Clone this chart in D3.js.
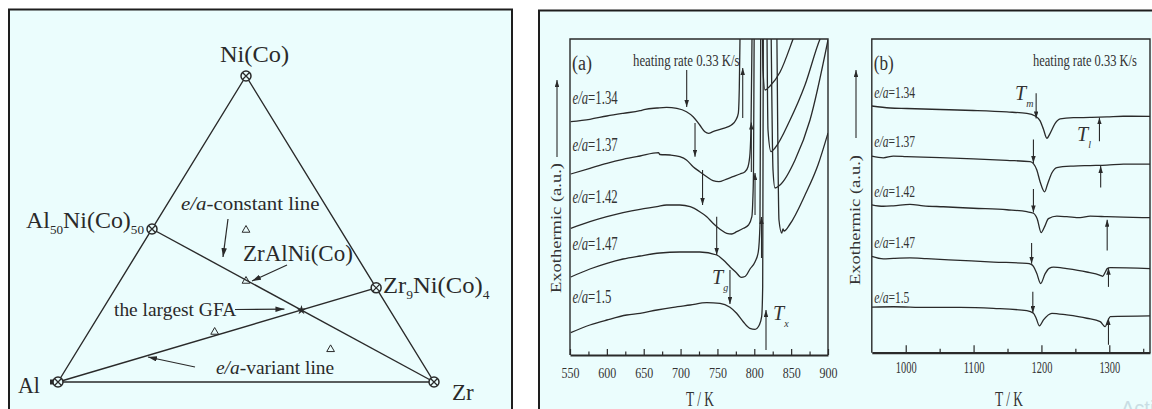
<!DOCTYPE html>
<html><head><meta charset="utf-8">
<script src="https://cdn.jsdelivr.net/npm/d3@7"></script>
<style>
html,body{margin:0;padding:0;background:#fff;}
svg{display:block;font-family:"Liberation Serif","Times New Roman",serif;}
</style></head><body>
<svg id="c" width="1152" height="409"></svg>
<script>
// ---------------- DATA ----------------
// Ternary diagram: compositions as [Al, Ni(Co), Zr] fractions
const vertexNames = ["Al", "Ni(Co)", "Zr"];
const vertexComp = [[1,0,0],[0,1,0],[0,0,1]];
const binaryComp = [[0.5,0.5,0],[0,4/13,9/13]];            // Al50Ni(Co)50, Zr9Ni(Co)4
const alloyComp = [[0.25,0.5,0.25],[1/3,1/3,1/3],[0.5,1/6,1/3],[0.22,0.11,0.67]];
const gfaComp = [0.235,0.235,0.53];                          // the largest GFA (star)

// DSC panel (a): [T (K), signal (a.u.)]
const eaLabels = ["1.34","1.37","1.42","1.47","1.5"];
const a134 = [[551,23.33],[577,23.57],[600,23.9],[622,24.17],[645,24.43],[652,24.57],[668,24.7],[681,24.77],[695,24.67],[708,24.33],[717,23.83],[726,23.0],[733,22.33],[738,22.17],[744,22.33],[758,22.67],[769,23.0],[775,23.5],[778.3,24.17],[779.7,26.83],[780.6,31.6],[782,40],[810,40],[811.8,28.5],[814.6,26.5],[821.4,26.9],[835,28.3],[852.6,31.6],[862,33.5]];
const a137 = [[551,18.1],[577,18.67],[600,19.17],[622,19.57],[645,19.9],[670,20.23],[672,20.05],[686,20.0],[699,19.83],[708,19.5],[717,18.83],[726,18.33],[735.5,17.83],[744,17.43],[752,17.33],[761.6,17.57],[771,17.83],[780.6,18.1],[787.4,18.33],[791.5,18.83],[794.2,20.17],[795.6,23.17],[796.9,31.6],[798,40],[816,40],[818.6,22.5],[822.7,20.33],[828.1,20.7],[848.5,23.5],[868.8,27],[889.2,31.6],[902.7,33.5]];
const a142 = [[551,12.67],[577,13.33],[600,13.83],[622,14.23],[645,14.57],[668,14.83],[681,15.0],[699,15.0],[713,14.83],[726,14.33],[735.5,13.83],[744,13.17],[753.5,12.57],[762.6,12.17],[769.4,12.1],[776.2,12.33],[785.3,12.67],[792.1,13.0],[796.7,13.83],[798,15.5],[798.9,18.17],[799.8,31.6],[800.5,40],[821,40],[825.4,18.5],[828.1,16.7],[834.9,17],[855.3,19.5],[875.6,23.5],[900,31.5]];
const a147 = [[551,7.8],[577,8.6],[600,9.17],[622,9.6],[645,9.9],[672,10.2],[699,10.3],[726,10.3],[749,10.0],[758,9.5],[767,8.83],[776,8.2],[782,7.77],[787.4,7.85],[794.2,8.6],[800.9,9.3],[805.4,10.3],[807.7,13.0],[808.7,31.6],[809.5,40],[829,40],[833.5,13.5],[837.2,12.2],[838.9,12.6],[840.3,12.4],[848.5,13.1],[868.8,16],[886.4,19],[900,22.2]];
const a150 = [[551,2.23],[577,3.0],[600,3.5],[627,4.0],[645,4.17],[668,4.5],[690,4.77],[713,5.0],[735.5,5.23],[753.5,5.17],[767,4.77],[776,4.17],[785,3.33],[794,2.67],[801,2.57],[806.8,3.0],[810,3.83],[811.4,6.83],[812.2,31.6],[813,40],[900,40]];
// arrows: [T, from, to]
const tgA = [[708.3,28.5,24.8],[719.6,23.2,19.83],[729.8,18.5,15.0],[749,13.83,10.0],[767,8.5,5.1]];
const txA = [[784.3,23.7,28.7],[796,18.3,23.25],[801,14.0,18.2],[809.8,9.7,13.8],[815.9,0.5,4.5]];
const ticksA = [550,600,650,700,750,800,850,900];

// DSC panel (b)
const b134 = [[950,24.85],[977,24.65],[1001.5,24.6],[1050.6,24.5],[1099.7,24.4],[1149,24.25],[1178.5,24.1],[1190.7,23.85],[1198.1,23.35],[1203,22.5],[1208,21.6],[1212.8,22.1],[1220.2,23.1],[1227.6,23.55],[1247.2,23.67],[1271.8,23.7],[1296.5,23.75],[1320.9,23.82],[1360,23.8]];
const b137 = [[950,19.8],[967,19.63],[981.7,19.8],[1001.5,19.75],[1050.6,19.65],[1099.7,19.53],[1149,19.37],[1183.3,19.25],[1188.2,19.05],[1193.2,18.4],[1198.1,17.2],[1204.7,16.2],[1209.1,17.0],[1215.3,18.1],[1222.7,18.65],[1247.2,18.8],[1271.8,18.85],[1296.5,18.9],[1320.9,19.0],[1360,19.0]];
const b142 = [[950,14.9],[967,14.75],[981.7,14.8],[1006.3,14.95],[1025.9,14.8],[1055.4,14.7],[1099.7,14.55],[1149,14.4],[1178.5,14.2],[1188.2,14.05],[1193.7,13.5],[1199.6,12.1],[1204.7,12.7],[1210.3,13.5],[1222.7,13.75],[1237.4,13.7],[1257,13.6],[1271.8,13.75],[1296.5,13.7],[1320.9,13.65],[1360,13.6]];
const b147 = [[950,9.7],[967,9.45],[981.7,9.5],[1006.3,9.55],[1030.9,9.47],[1080.1,9.3],[1129.3,9.13],[1178.5,9.0],[1184.9,8.9],[1188.2,8.7],[1193.2,7.97],[1198.8,6.97],[1205.5,7.97],[1211.4,8.5],[1217.7,8.63],[1237.4,8.47],[1266.9,8.13],[1286.6,7.8],[1290.3,7.7],[1294,8.1],[1297,8.47],[1301.4,8.57],[1360,8.47]];
const b150 = [[950,4.6],[981.7,4.63],[1031,4.57],[1080.1,4.57],[1129.3,4.47],[1178.5,4.23],[1188.2,3.97],[1192.2,3.47],[1197.1,2.7],[1203,3.3],[1215.4,3.97],[1237.4,3.8],[1266.9,3.47],[1286.6,3.13],[1294,2.63],[1297.4,3.13],[1301.4,3.63],[1360,3.7]];
const tmB = [[1192.2,26.13,23.6],[1188.2,21.47,19.1],[1188.2,16.5,14.13],[1185.5,11.05,8.97],[1187.3,6.13,4.0]];
const tlB = [[1285.5,21.3,23.7],[1287.3,16.63,18.8],[1296.9,10.3,13.4],[1298.8,6.63,8.55],[1298.8,0.8,3.45]];
const ticksB = [1000,1100,1200,1300];

// ---------------- DRAW ----------------
const ink = "#2a2a2a", bg = "#ebfdfd";
const svg = d3.select("#c");
const defs = svg.append("defs");
function mk(id, L, W){
  defs.append("marker").attr("id",id).attr("markerUnits","userSpaceOnUse")
    .attr("markerWidth",L).attr("markerHeight",W).attr("refX",L).attr("refY",W/2)
    .attr("orient","auto").append("path").attr("d",`M0,0L${L},${W/2}L0,${W}Z`).attr("fill",ink);
}
mk("ah",7,4.5); mk("ahT",9,5.5);

svg.append("rect").attr("x",9).attr("y",9.5).attr("width",503).attr("height",420)
  .attr("fill",bg).attr("stroke","#1e1e1e").attr("stroke-width",2);
svg.append("rect").attr("x",539).attr("y",10.5).attr("width",640).attr("height",420)
  .attr("fill",bg).attr("stroke","#1e1e1e").attr("stroke-width",2);

// ---- Ternary ----
const tX = d3.scaleLinear().domain([0,1]).range([58,434]);
const tY = d3.scaleLinear().domain([0,1]).range([382,76]);
function tern(c){ const s=c[0]+c[1]+c[2], n=c[1]/s, z=c[2]/s; return [tX(z+n/2), tY(n)]; }
const tl = d3.line();
const T = svg.append("g");
T.append("path").attr("d", tl([...vertexComp, vertexComp[0]].map(tern))).attr("fill","none").attr("stroke",ink).attr("stroke-width",1.4);
T.append("path").attr("d", tl([binaryComp[0], vertexComp[2]].map(tern))).attr("fill","none").attr("stroke",ink).attr("stroke-width",1.4);
T.append("path").attr("d", tl([vertexComp[0], binaryComp[1]].map(tern))).attr("fill","none").attr("stroke",ink).attr("stroke-width",1.4);
function otimes(c){
  const [x,y]=tern(c); const g=T.append("g").attr("transform",`translate(${x},${y})`);
  g.append("circle").attr("r",5).attr("fill",bg).attr("stroke",ink).attr("stroke-width",1.5);
  g.append("path").attr("d","M-3.5,-3.5L3.5,3.5M-3.5,3.5L3.5,-3.5").attr("stroke",ink).attr("stroke-width",1.3);
}
{ const [x,y]=tern(vertexComp[0]); T.append("rect").attr("x",x-8).attr("y",y-2.5).attr("width",6).attr("height",5).attr("fill",ink); }
[...vertexComp, ...binaryComp].forEach(otimes);
alloyComp.forEach(c=>{ const [x,y]=tern(c);
  T.append("path").attr("d",d3.symbol(d3.symbolTriangle,26)()).attr("transform",`translate(${x},${y+1})`)
   .attr("fill","none").attr("stroke",ink).attr("stroke-width",1); });
{ const [x,y]=tern(gfaComp); T.append("path").attr("d",d3.symbol(d3.symbolStar,28)()).attr("transform",`translate(${x},${y})`).attr("fill",ink); }

function ttext(x,y,size,parts,sx){
  const t=T.append("text").attr("transform",`translate(${x},${y}) scale(${sx||1},1)`).attr("fill",ink).attr("font-size",size);
  parts.forEach(p=>{ const s=t.append("tspan").text(p.t);
    if(p.i) s.attr("font-style","italic");
    if(p.sub) s.attr("font-size",size*0.55).attr("dy",p.sub);
    if(p.dy) s.attr("dy",p.dy); });
  return t;
}
ttext(220,62,23,[{t:"Ni(Co)"}],1.06);
ttext(18,393,23,[{t:"Al"}],0.95);
ttext(452,400,23,[{t:"Zr"}],1.0);
ttext(26,228,23,[{t:"Al"},{t:"50",sub:6},{t:"Ni(Co)",dy:-6},{t:"50",sub:6}],1.04);
ttext(383,293,23,[{t:"Zr"},{t:"9",sub:6},{t:"Ni(Co)",dy:-6},{t:"4",sub:6}],1.07);
ttext(181,210,18,[{t:"e/a",i:1},{t:"-constant line"}],1.16);
ttext(243,261,23,[{t:"ZrAlNi(Co)"}],1.0);
ttext(114,316,18,[{t:"the largest GFA"}],1.08);
ttext(216,374,18,[{t:"e/a",i:1},{t:"-variant line"}],1.08);
function tarrow(x1,y1,x2,y2){
  T.append("line").attr("x1",x1).attr("y1",y1).attr("x2",x2).attr("y2",y2)
   .attr("stroke",ink).attr("stroke-width",1.2).attr("marker-end","url(#ahT)");
}
{ const a=tern(alloyComp[1]); tarrow(287,265,a[0]+6,a[1]+1); }
{ const g=tern(gfaComp); tarrow(235,309.5,g[0]-17,g[1]-1); }
tarrow(228,219,223,257);
tarrow(195,367,148,357);

// ---- DSC panels ----
function panel(cfg){
  const x=d3.scaleLinear().domain(cfg.xd).range(cfg.xr);
  const y=d3.scaleLinear().domain([0,31.6]).range([cfg.bottom,39]);
  const g=svg.append("g");
  const cid="clip"+cfg.id;
  defs.append("clipPath").attr("id",cid).append("rect")
    .attr("x",cfg.xr[0]).attr("y",39).attr("width",cfg.xr[1]-cfg.xr[0]).attr("height",cfg.bottom-39);
  const line=d3.line().x(d=>x(d[0])).y(d=>y(d[1])).curve(d3.curveMonotoneX);
  const cg=g.append("g").attr("clip-path",`url(#${cid})`);
  cfg.curves.forEach(c=>cg.append("path").attr("d",line(c)).attr("fill","none")
     .attr("stroke",ink).attr("stroke-width",1.3).attr("stroke-linejoin","round"));
  [...cfg.down, ...cfg.up].forEach(a=>g.append("line").attr("x1",x(a[0])).attr("x2",x(a[0])).attr("y1",y(a[1])).attr("y2",y(a[2]))
     .attr("stroke",ink).attr("stroke-width",1.1).attr("marker-end","url(#ah)"));
  // frame
  g.append("path").attr("d",`M${cfg.xr[0]},${cfg.bottom}V39H${cfg.xr[1]}V${cfg.bottom}`)
    .attr("fill","none").attr("stroke",ink).attr("stroke-width",1.4);
  // minor ticks
  g.append("g").attr("transform",`translate(0,${cfg.bottom})`)
    .call(d3.axisBottom(x).tickValues(cfg.minor).tickSize(-cfg.minorLen).tickFormat(""))
    .call(s=>{s.select(".domain").remove(); s.selectAll("line").attr("stroke",ink).attr("stroke-width",1.2);});
  const ax=g.append("g").attr("transform",`translate(0,${cfg.bottom})`)
    .call(d3.axisBottom(x).tickValues(cfg.ticks).tickFormat(d3.format("d")).tickSizeInner(-cfg.majorLen).tickSizeOuter(0).tickPadding(cfg.pad));
  ax.select(".domain").attr("stroke",ink).attr("stroke-width",2.2);
  ax.selectAll("line").attr("stroke",ink).attr("stroke-width",1.2);
  ax.selectAll("text").attr("fill","#333").attr("font-family","Liberation Serif").attr("font-size",cfg.tickFont)
    .attr("textLength",d=>String(d).length*cfg.digitW).attr("lengthAdjust","spacingAndGlyphs");
  // axis titles
  g.append("text").attr("x",cfg.tkx).attr("y",406).attr("text-anchor","middle").attr("font-size",20).attr("fill","#333")
    .attr("textLength",28).attr("lengthAdjust","spacingAndGlyphs").text("T / K");
  g.append("text").attr("transform",`translate(${cfg.exo[0]},${cfg.exo[1]}) rotate(-90)`).attr("text-anchor","middle")
    .attr("font-size",15).attr("fill","#333").attr("textLength",130).attr("lengthAdjust","spacingAndGlyphs").text("Exothermic (a.u.)");
  g.append("line").attr("x1",cfg.exo[0]-4).attr("x2",cfg.exo[0]-4).attr("y1",cfg.exoArrow[0]).attr("y2",cfg.exoArrow[1])
    .attr("stroke",ink).attr("stroke-width",1.1).attr("marker-end","url(#ah)");
  // panel letter & heating rate
  g.append("text").attr("x",cfg.xr[0]+2).attr("y",70).attr("font-size",20).attr("fill","#333")
    .attr("textLength",20).attr("lengthAdjust","spacingAndGlyphs").text(cfg.letter);
  g.append("text").attr("transform",`translate(${cfg.hr[0]},66) scale(${cfg.hr[1]},1)`).attr("font-size",16).attr("fill","#333")
    .text("heating rate 0.33 K/s");
  // e/a labels
  eaLabels.forEach((l,i)=>{
    const t=g.append("text").attr("transform",`translate(${cfg.xr[0]+2.5},${cfg.labY[i]}) scale(${cfg.labSx},1)`)
      .attr("font-size",cfg.labF).attr("fill","#333");
    t.append("tspan").attr("font-style","italic").text("e/a");
    t.append("tspan").text("="+l);
  });
  return {x,y,g};
}
function sublabel(g,x,y,main,sub){
  const t=g.append("text").attr("x",x).attr("y",y).attr("font-size",20).attr("fill","#333");
  t.append("tspan").attr("font-style","italic").text(main);
  t.append("tspan").attr("font-style","italic").attr("font-size",10).attr("dy",7).text(sub);
}
const pA=panel({id:"A",xd:[550,900],xr:[570,828],bottom:355,curves:[a134,a137,a142,a147,a150],
  down:tgA,up:txA,ticks:ticksA,minor:d3.range(575,900,50),minorLen:3.5,majorLen:6,pad:12,
  tickFont:15,digitW:6,tkx:700,exo:[561,228],exoArrow:[157,80],letter:"(a)",hr:[633,0.8],
  labY:[104,151,203,250,303],labSx:0.71,labF:18});
sublabel(pA.g,712,284,"T","g");
sublabel(pA.g,773,320,"T","x");
const pB=panel({id:"B",xd:[950,1360],xr:[871.8,1150],bottom:352.7,curves:[b134,b137,b142,b147,b150],
  down:tmB,up:tlB,ticks:ticksB,minor:[1050,1150,1250,1350],minorLen:4,majorLen:7.5,pad:9,
  tickFont:16,digitW:5.2,tkx:1009,exo:[860,220],exoArrow:[138,70],letter:"(b)",hr:[1033,0.78],
  labY:[98,146.5,197,248,303],labSx:0.68,labF:17});
sublabel(pB.g,1015,100,"T","m");
sublabel(pB.g,1077,141,"T","l");
svg.append("text").attr("x",1121).attr("y",415).attr("font-size",20).attr("fill","#c9dde4")
  .attr("font-family","Liberation Sans").text("Activate");
</script>
</body></html>
